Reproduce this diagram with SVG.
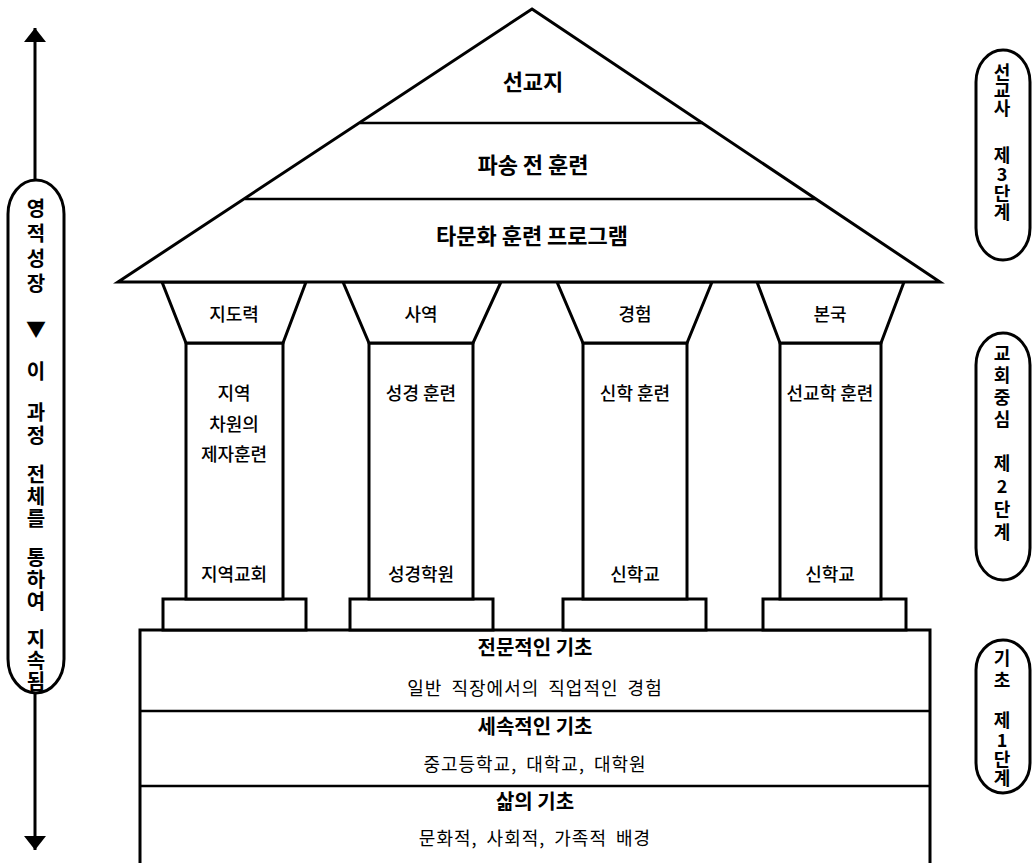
<svg xmlns="http://www.w3.org/2000/svg" width="1032" height="863" viewBox="0 0 1032 863">
<defs>
<style>
.ln{fill:#fff;stroke:#000;stroke-width:3;stroke-linejoin:miter}
.hl{fill:none;stroke:#000;stroke-width:2.5}
.t{font-family:"Noto Sans CJK KR","Noto Sans",sans-serif;fill:#000;text-anchor:middle;dominant-baseline:central}
.roof{font-size:22px;font-weight:700}
.col{font-size:18px;font-weight:500}
.bh{font-size:20px;font-weight:700}
.bs{font-size:18px;font-weight:400;letter-spacing:1px;word-spacing:4px}
.cap{font-size:18px;font-weight:700}
.capl{font-size:20px;font-weight:700}
</style>
<marker id="ah" viewBox="0 0 14 22" refX="14" refY="11" markerWidth="14" markerHeight="22" markerUnits="userSpaceOnUse" orient="auto">
<path d="M0,0 L14,11 L0,22 z" fill="#000"/>
</marker>
</defs>
<rect width="1032" height="863" fill="#fff"/>

<g id="connectors">
<line x1="35" y1="180" x2="35" y2="28" stroke="#000" stroke-width="3" marker-end="url(#ah)"/>
<line x1="35" y1="693" x2="35" y2="850" stroke="#000" stroke-width="3" marker-end="url(#ah)"/>
</g>

<g id="base">
<rect class="ln" x="140" y="630" width="790" height="250"/>
<line class="hl" x1="140" y1="711" x2="930" y2="711"/>
<line class="hl" x1="140" y1="786" x2="930" y2="786"/>
<text class="t bh" x="535" y="646">전문적인 기초</text>
<text class="t bs" x="535" y="687">일반 직장에서의 직업적인 경험</text>
<text class="t bh" x="535" y="725">세속적인 기초</text>
<text class="t bs" x="535" y="763">중고등학교, 대학교, 대학원</text>
<text class="t bh" x="535" y="800">삶의 기초</text>
<text class="t bs" x="535" y="837">문화적, 사회적, 가족적 배경</text>
</g>

<g id="column1">
<rect class="ln" x="163" y="599" width="143" height="31"/>
<rect class="ln" x="186" y="343" width="97" height="256"/>
<polygon class="ln" points="162,282 306,282 283,343 186,343"/>
<text class="t col" x="234" y="313">지도력</text>
<text class="t col" x="234" y="392">지역</text>
<text class="t col" x="234" y="423">차원의</text>
<text class="t col" x="234" y="453">제자훈련</text>
<text class="t col" x="234" y="573">지역교회</text>
</g>

<g id="column2">
<rect class="ln" x="350" y="599" width="143" height="31"/>
<rect class="ln" x="369" y="343" width="104" height="256"/>
<polygon class="ln" points="343,282 501,282 473,343 369,343"/>
<text class="t col" x="421" y="313">사역</text>
<text class="t col" x="421" y="392">성경 훈련</text>
<text class="t col" x="421" y="573">성경학원</text>
</g>

<g id="column3">
<rect class="ln" x="563" y="599" width="143" height="31"/>
<rect class="ln" x="583" y="343" width="104" height="256"/>
<polygon class="ln" points="557,282 712,282 687,343 583,343"/>
<text class="t col" x="635" y="313">경험</text>
<text class="t col" x="635" y="392">신학 훈련</text>
<text class="t col" x="635" y="573">신학교</text>
</g>

<g id="column4">
<rect class="ln" x="763" y="599" width="143" height="31"/>
<rect class="ln" x="780" y="343" width="101" height="256"/>
<polygon class="ln" points="757,282 904,282 881,343 780,343"/>
<text class="t col" x="830" y="313">본국</text>
<text class="t col" x="830" y="392">선교학 훈련</text>
<text class="t col" x="830" y="573">신학교</text>
</g>

<g id="roof">
<polygon class="ln" points="532,9 940,282 118,282"/>
<line class="hl" x1="360" y1="123" x2="703" y2="123"/>
<line class="hl" x1="245" y1="199" x2="816" y2="199"/>
<text class="t roof" x="533" y="80">선교지</text>
<text class="t roof" x="533" y="163">파송 전 훈련</text>
<text class="t roof" x="532" y="234">타문화 훈련 프로그램</text>
</g>

<g id="left-capsule">
<rect class="ln" x="8" y="180" width="56" height="513" rx="28" ry="34"/>
<text class="t capl" x="36" y="207">영</text>
<text class="t capl" x="36" y="232">적</text>
<text class="t capl" x="36" y="257">성</text>
<text class="t capl" x="36" y="282">장</text>
<text class="t capl" x="36" y="328">▼</text>
<text class="t capl" x="36" y="370">이</text>
<text class="t capl" x="36" y="411">과</text>
<text class="t capl" x="36" y="434">정</text>
<text class="t capl" x="36" y="473">전</text>
<text class="t capl" x="36" y="495">체</text>
<text class="t capl" x="36" y="517">를</text>
<text class="t capl" x="36" y="556">통</text>
<text class="t capl" x="36" y="578">하</text>
<text class="t capl" x="36" y="600">여</text>
<text class="t capl" x="36" y="638">지</text>
<text class="t capl" x="36" y="659">속</text>
<text class="t capl" x="36" y="680">됨</text>
</g>

<g id="stage3">
<rect class="ln" x="976" y="50" width="54" height="210" rx="27" ry="32"/>
<text class="t cap" x="1002" y="71">선</text>
<text class="t cap" x="1002" y="89">교</text>
<text class="t cap" x="1002" y="107">사</text>
<text class="t cap" x="1002" y="154">제</text>
<text class="t cap" x="1002" y="173">3</text>
<text class="t cap" x="1002" y="192">단</text>
<text class="t cap" x="1002" y="211">계</text>
</g>

<g id="stage2">
<rect class="ln" x="976" y="333" width="54" height="247" rx="27" ry="32"/>
<text class="t cap" x="1002" y="352">교</text>
<text class="t cap" x="1002" y="374">회</text>
<text class="t cap" x="1002" y="396">중</text>
<text class="t cap" x="1002" y="418">심</text>
<text class="t cap" x="1002" y="462">제</text>
<text class="t cap" x="1002" y="485">2</text>
<text class="t cap" x="1002" y="508">단</text>
<text class="t cap" x="1002" y="531">계</text>
</g>

<g id="stage1">
<rect class="ln" x="976" y="640" width="54" height="153" rx="27" ry="30"/>
<text class="t cap" x="1002" y="657">기</text>
<text class="t cap" x="1002" y="679">초</text>
<text class="t cap" x="1002" y="719">제</text>
<text class="t cap" x="1002" y="739">1</text>
<text class="t cap" x="1002" y="758">단</text>
<text class="t cap" x="1002" y="777">계</text>
</g>
</svg>
